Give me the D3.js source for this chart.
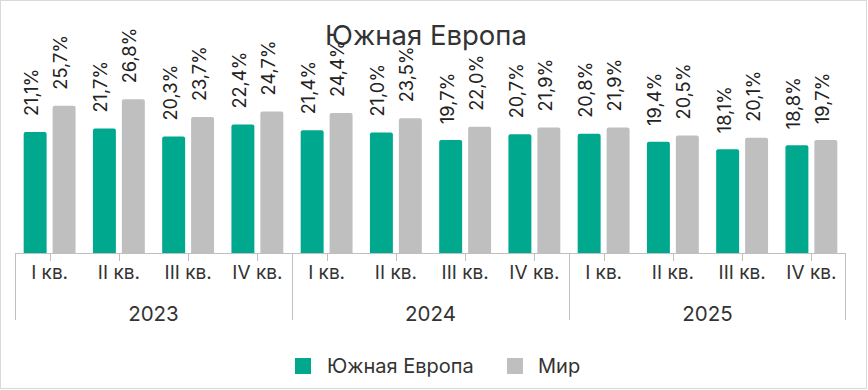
<!DOCTYPE html>
<html><head><meta charset="utf-8">
<script src="https://cdn.jsdelivr.net/npm/d3@7"></script>
<style>body{margin:0;background:#fff}svg{display:block;font-family:Inter,"Noto Sans",sans-serif}</style>
</head><body><svg id="c" width="868" height="390"></svg>
<script>
const years = ["2023","2024","2025"];
const quarters = ["I кв.","II кв.","III кв.","IV кв."];
const seriesNames = ["Южная Европа","Мир"];
const southEurope = [21.1,21.7,20.3,22.4, 21.4,21.0,19.7,20.7, 20.8,19.4,18.1,18.8];
const world = [25.7,26.8,23.7,24.7, 24.4,23.5,22.0,21.9, 21.9,20.5,20.1,19.7];
const colors = ["#00A88E","#BFBFBF"];

const svg = d3.select("#c");
svg.append("rect").attr("x",0.5).attr("y",0.5).attr("width",866).attr("height",388)
  .attr("fill","#fff").attr("stroke","#d9d9d9");

const cats = [];
years.forEach(y=>quarters.forEach(q=>cats.push(y+"|"+q)));
const x = d3.scaleBand().domain(cats).range([15,846]).padding(0);
const xs = d3.scaleBand().domain(seriesNames).range([0,x.bandwidth()]).paddingInner(0.207).paddingOuter(0.3);
const y = d3.scaleLinear().domain([0,30]).range([253,81]);

svg.append("text").attr("x",426).attr("y",45).attr("text-anchor","middle")
  .attr("font-size",27.5).attr("fill","#333").text("Южная Европа");

const data = cats.map((c,i)=>({c, vals:[southEurope[i], world[i]]}));
const g = svg.append("g");
data.forEach(d=>{
  d.vals.forEach((v,j)=>{
    const bx = x(d.c)+xs(seriesNames[j]);
    g.append("path").attr("fill",colors[j])
      .attr("d",()=>{const w=xs.bandwidth(),t=y(v),b=y(0),r=2;
        return `M${bx},${b}V${t+r}Q${bx},${t} ${bx+r},${t}H${bx+w-r}Q${bx+w},${t} ${bx+w},${t+r}V${b}Z`;});
    const cx = bx+xs.bandwidth()/2-2;
    g.append("text").attr("transform",`translate(${cx},${y(v)-16}) rotate(-90)`)
      .attr("dominant-baseline","middle").attr("font-size",18.2).attr("fill","#222")
      .text(d3.format(".1f")(v).replace(".",",")+"%");
  });
});

// axis
const ax = svg.append("g").attr("stroke","#bfbfbf").attr("stroke-width",1);
ax.append("line").attr("x1",15).attr("x2",846).attr("y1",253.5).attr("y2",253.5);
cats.forEach(c=>{
  const cx = Math.round(x(c)+x.bandwidth()/2)+0.5;
  ax.append("line").attr("x1",cx).attr("x2",cx).attr("y1",253).attr("y2",261);
});
years.forEach((yr,i)=>{
  const x0 = x(yr+"|"+quarters[0]);
  ax.append("line").attr("x1",Math.round(x0)+0.5).attr("x2",Math.round(x0)+0.5).attr("y1",253).attr("y2",320);
});
ax.append("line").attr("x1",845.5).attr("x2",845.5).attr("y1",253).attr("y2",320);

cats.forEach(c=>{
  svg.append("text").attr("x",x(c)+x.bandwidth()/2).attr("y",279).attr("text-anchor","middle")
    .attr("font-size",19).attr("fill","#333").text(c.split("|")[1]);
});
years.forEach(yr=>{
  const x0 = x(yr+"|"+quarters[0]), x1 = x(yr+"|"+quarters[3])+x.bandwidth();
  svg.append("text").attr("x",(x0+x1)/2).attr("y",321).attr("text-anchor","middle")
    .attr("font-size",20.5).attr("fill","#333").text(yr);
});

// legend
const leg = [{x:295,tx:327},{x:507,tx:538}];
seriesNames.forEach((s,i)=>{
  svg.append("rect").attr("x",leg[i].x).attr("y",358).attr("width",16).attr("height",16).attr("fill",colors[i]);
  svg.append("text").attr("x",leg[i].tx).attr("y",373).attr("font-size",20).attr("fill","#333").text(s);
});
</script></body></html>
